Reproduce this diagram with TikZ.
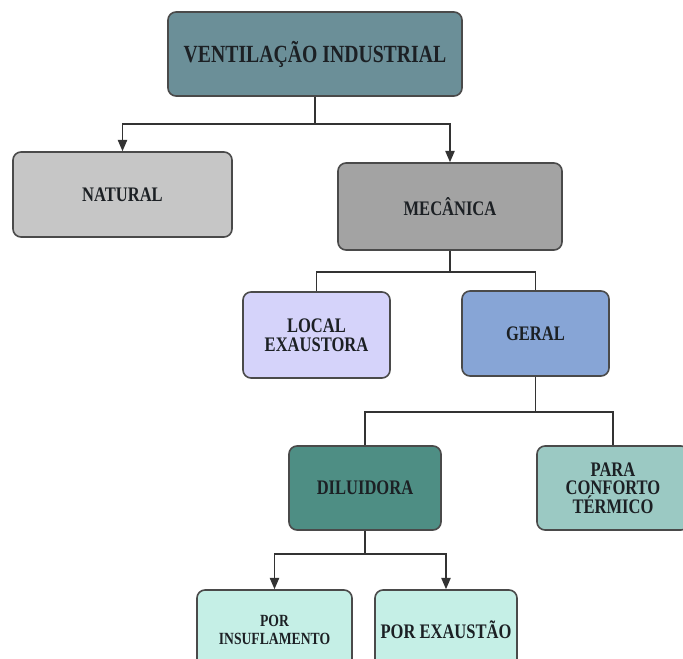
\documentclass[tikz,border=0pt]{standalone}
\usepackage{fontspec}
\setmainfont{Liberation Serif}[FakeStretch=0.8]
\usetikzlibrary{arrows.meta}

\definecolor{ventfill}{HTML}{6B8F98}
\definecolor{natfill}{HTML}{C6C6C6}
\definecolor{mecfill}{HTML}{A3A3A3}
\definecolor{localfill}{HTML}{D5D3FA}
\definecolor{geralfill}{HTML}{87A5D6}
\definecolor{dilfill}{HTML}{4E8E84}
\definecolor{conffill}{HTML}{9BC9C3}
\definecolor{porfill}{HTML}{C5EFE6}
\definecolor{boxline}{HTML}{4A4A4A}
\definecolor{linkgray}{HTML}{333333}
\definecolor{labeltext}{HTML}{1C2024}

\begin{document}
\begin{tikzpicture}[x=0.75pt, y=-0.75pt,
    box/.style={rectangle, draw=boxline, line width=1.2pt, rounded corners=6pt,
                align=center, text=labeltext, inner sep=2pt,
                font=\bfseries\fontsize{15.5}{14}\selectfont},
    link/.style={draw=linkgray, line width=1.1pt},
    arr/.style={link, -{Triangle[width=7pt,length=8.5pt]}}
]
  \clip (0,0) rectangle (683,658);

  % top
  \node[box, fill=ventfill, minimum width=220.5pt, minimum height=63pt,
        font=\bfseries\fontsize{18.5}{20}\selectfont] (vent) at (315,54)
        {VENTILAÇÃO INDUSTRIAL};

  % level 1
  \node[box, fill=natfill, minimum width=164.25pt, minimum height=63.75pt] (nat) at (122.5,194.5) {NATURAL};
  \node[box, fill=mecfill, minimum width=168pt, minimum height=65.25pt] (mec) at (450,206.5) {MECÂNICA};

  % level 2
  \node[box, fill=localfill, minimum width=110.25pt, minimum height=64.5pt] (local) at (316.5,335) {LOCAL\\EXAUSTORA};
  \node[box, fill=geralfill, minimum width=110.25pt, minimum height=63.75pt] (geral) at (535.5,333.5) {GERAL};

  % level 3
  \node[box, fill=dilfill, minimum width=114pt, minimum height=63pt] (dil) at (365,488) {DILUIDORA};
  \node[box, fill=conffill, minimum width=114pt, minimum height=63pt] (conf) at (613,488) {PARA\\CONFORTO\\TÉRMICO};

  % level 4
  \node[box, fill=porfill, minimum width=116.25pt, minimum height=60pt,
        font=\bfseries\fontsize{12.8}{13}\selectfont] (insuf) at (274.5,630) {POR\\INSUFLAMENTO};
  \node[box, fill=porfill, minimum width=106.5pt, minimum height=60pt] (exaus) at (446,630) {POR EXAUSTÃO};

  % connectors
  \draw[arr] (vent.south) -- ++(0,27) -| (nat.north);
  \draw[arr] (vent.south) -- ++(0,27) -| (mec.north);
  \draw[link] (mec.south) -- ++(0,21) -| (local.north);
  \draw[link] (mec.south) -- ++(0,21) -| (geral.north);
  \draw[link] (geral.south) -- ++(0,35) -| (dil.north);
  \draw[link] (geral.south) -- ++(0,35) -| (conf.north);
  \draw[arr] (dil.south) -- ++(0,23) -| (insuf.north);
  \draw[arr] (dil.south) -- ++(0,23) -| (exaus.north);
\end{tikzpicture}
\end{document}
